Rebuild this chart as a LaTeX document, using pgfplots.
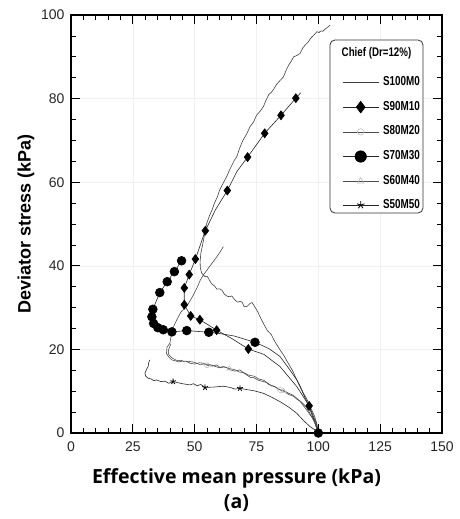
\documentclass[border=0pt]{standalone}
\usepackage{fontspec}
\setmainfont{Liberation Sans}
\newfontfamily\xlabfont{Open Sans}
\usepackage{pgfplots}
\pgfplotsset{compat=1.18}
\begin{document}
\begin{tikzpicture}
\useasboundingbox (-71pt,-86pt) rectangle (388pt,433pt);
\begin{axis}[
  scale only axis, width=371pt, height=418pt,
  at={(0pt,0pt)}, anchor=south west,
  xmin=0, xmax=150, ymin=0, ymax=100,
  xtick={0,25,...,150}, minor x tick num=4,
  ytick={0,20,...,100}, minor y tick num=3,
  tick align=inside, major tick length=9pt, minor tick length=5pt,
  tick style={black, line width=0.7pt},
  axis line style={black, line width=1.1pt},
  grid=major, grid style={black!6, line width=0.5pt},
  /pgf/number format/assume math mode=true,
  tick label style={font=\fontsize{14}{14}\selectfont, text=black!85},
  xticklabel style={yshift=-5pt},
  yticklabel style={xshift=-3pt},
  xlabel={Effective mean pressure (kPa)\\(a)},
  xlabel style={font=\xlabfont\bfseries\fontsize{19.5}{25}\selectfont, align=center,
     at={(axis description cs:0.446,0)}, anchor=north, inner sep=0pt, yshift=-35pt},
  ylabel={Deviator stress (kPa)},
  ylabel style={font=\bfseries\fontsize{18}{18}\selectfont,
     at={(axis description cs:-0.098,0.5)}, rotate=0, anchor=south, inner sep=0pt},
  legend cell align=right,
  legend image code/.code={
     \draw[#1, mark=none] (0pt,0pt) -- (36pt,0pt);
     \draw[#1, mark indices={1}, every mark/.append style={scale=1.3}] plot coordinates {(18pt,0pt)};},
  legend style={draw=none, fill=none, inner sep=0pt,
     at={(axis description cs:0.9407,0.8512)}, anchor=north east,
     font=\bfseries\fontsize{13}{13}\selectfont,
     nodes={inner sep=0pt, text height=8pt, text depth=2pt, xscale=0.76},
     row sep=13.9pt, column sep=4pt},
]
% S100M0
\addplot[black!75, line width=0.6pt, mark=none] coordinates {
(100,0) (99.5,2) (98.5,4) (96.7,6.3) (95.2,8.3) (94,9.5) (92.5,11.4) (91.3,12.7) (89.5,15.0) (88,16.5)
(86,18.6) (84.5,19.9) (82.5,21.8) (81,23.5) (79.3,24.6) (77.8,26.2) (76.6,27.6) (75.5,29) (74,30.5)
(73.2,31.2) (72.4,31.0) (71.2,30.3) (70,30.2) (69.2,31.3) (68.5,31.5) (67.3,31.3) (66,32)
(65,32.8) (64.3,32.6) (63.2,32.7) (62,33.2) (61,34.2) (60,34.5) (59,34.4) (58,35.2) (57.2,35.5)
(56.5,36) (55.6,37.0) (55,37.5) (54.2,37.4) (53.5,37.8) (52.8,38.3) (52.3,39.5) (52.2,41)
(52.5,43) (53.2,45) (54,47.5) (54.8,50) (56,52) (57.2,53.6) (58,55) (59.2,56.5) (60,58) (61.2,59.4)
(62.9,61.3) (64,62.8) (65,64) (66,65.2) (67,66.1) (68.3,68.3) (69.5,70) (71,71.5) (72.4,73.3)
(73.8,74.4) (75,76) (76.5,77) (77.8,78.1) (79,79.8) (80,81) (81,81.5) (81.8,82.1) (83,83.3) (84,84)
(85.9,85.2) (87,86.8) (88,88) (89,88.9) (90,90) (91.3,90.3) (92.6,90.8) (93.8,92.2) (95,93)
(96,93.6) (97,94.5) (98.2,95.2) (99.4,96.0) (100.3,95.8) (101,96.2) (101.8,96.1) (102.5,96.5)
(103.6,97.0) (104.8,97.6)};
\addlegendentry{S100M0}
% S90M10
\addplot[black!85, line width=0.6pt, mark=diamond*, mark size=4.5pt,
  mark options={fill=black, draw=black, solid},
  mark indices={3,7,9,10,11,12,13,14,15,16,18,20,21,22,23}] coordinates {
(100,0) (99,2.5) (96.3,6.5) (91.3,11.1) (84.5,15.9) (78,18.8) (71.7,20.1) (65,22.6) (58.9,24.6)
(52.1,27.1) (48.4,28.0) (45.8,30.7) (45.8,34.7) (47.8,37.9) (50.3,41.6) (54.3,48.4) (58.5,53.5)
(63.2,58.0) (67,62.5) (71.4,66.0) (78.3,71.7) (84.9,76.0) (90.9,80.1) (92.9,81.4)};
\addlegendentry{S90M10}
% S80M20
\addplot[black!70, line width=0.6pt, mark=o, mark size=2.5pt,
  mark options={draw=black!25, solid}, mark indices={12,30}] coordinates {
(100,0) (99,2) (98,3.4) (96.7,4.3) (95.2,5.6) (94,6.5) (92.6,7.6) (91.3,8.3) (89.6,9.1) (88,9.5)
(86.2,10.1) (84.5,10.3) (82.7,11.0) (81,11.3) (79.4,12.0) (77.8,12.3) (75.8,12.6) (74,13.2)
(72.5,13.3) (71,13.9) (69.6,14.5) (68.3,15.1) (66.3,14.8) (64.3,15.1) (63,15.6) (61.6,15.9)
(60.2,15.7) (58.9,16.3) (57,16.0) (55,16.2) (53.5,16.7) (52,16.8) (50,16.5) (48.1,16.7)
(46.5,17.2) (45,17.2) (43.5,17.0) (42,17.3) (40.7,17.5) (39.5,18.2) (38.6,19) (38.8,20.5)
(40,21.5) (40.7,24.1) (41.6,25.6) (42.7,27.0) (44.5,29) (46.7,30.2) (48,31.5) (49,32.5)
(51,34.8) (52.3,36.6) (53.5,37.8) (56,39.8) (58.5,41.8) (60.2,43.2) (61.6,44.6)};
\addlegendentry{S80M20}
% S70M30
\addplot[black!85, line width=0.6pt, mark=*, mark size=4.4pt,
  mark options={fill=black, draw=black, solid},
  mark indices={1,8,11,12,13,14,15,16,17,18,19,20,21,22}] coordinates {
(100,0) (98,3.5) (95,8) (91.3,12.7) (88,15.5) (84.5,18.3) (80,20.2) (74.4,21.7) (66,23.2)
(60,23.8) (55.7,24.1) (46.8,24.5) (40.8,24.2) (37.3,24.7) (35.1,25.2) (33.4,26.2) (32.7,27.8)
(33.1,29.6) (35.9,33.6) (38.9,36.2) (41.8,38.6) (44.7,41.2)};
\addlegendentry{S70M30}
% S60M40
\addplot[black!70, line width=0.6pt, mark=triangle, mark size=2.8pt,
  mark options={draw=black!25, solid}, mark indices={9,20}] coordinates {
(100,0) (98.5,2.5) (96.7,4.6) (95,6.3) (93,7.5) (91.5,8.0) (90,8.8) (88,9.2) (86,10) (84,10.5)
(82,11.2) (80,11.6) (78,12.6) (76,12.9) (74,13.6) (72,13.8) (70,14.4) (68,14.6) (66,15.2)
(64,15.4) (62,15.8) (60,15.6) (58,16.0) (56,16.4) (54,16.5) (52,16.4) (50,16.9) (48,17.1)
(46,17.0) (44.5,17.4) (43,17.3) (42,17.6) (41,17.9) (40.2,18.3) (39.5,18.8) (39.3,19.5)
(39.6,20.2) (40.4,21.3)};
\addlegendentry{S60M40}
% S50M50
\addplot[black!85, line width=0.6pt, mark=star, mark size=3pt,
  mark options={draw=black, solid, line width=0.8pt},
  mark indices={12,17,23}] coordinates {
(100,0) (98.5,0.8) (96.7,1.5) (94,3) (91.3,4.7) (88,6.2) (84.5,7.5) (81,8.6) (77.8,9.5)
(74,10.1) (71,10.4) (68.3,10.7) (66.3,10.5) (64.3,10.9) (61.6,11.2) (58,11.0) (54.2,10.9)
(52.5,11.6) (51,11.3) (49.5,11.8) (48.1,11.5) (45,11.8) (41.3,12.3) (39.5,11.9) (38,12.4)
(36.3,12.3) (34.6,12.7) (33.5,12.5) (32.5,12.9) (31.2,13.1) (30.2,13.6) (29.9,14.3)
(30.5,15.2) (31.2,15.9) (31.4,16.8) (31.9,17.5)};
\addlegendentry{S50M50}
\draw[draw=black!80, fill=white, rounded corners=5pt, line width=0.8pt]
  (axis description cs:0.698,0.5263) rectangle (axis description cs:0.9488,0.9402);
\node[font=\bfseries\fontsize{12.5}{12.5}\selectfont, xscale=0.78, text=black]
  at (axis description cs:0.8235,0.909) {Chief (Dr=12\%)};
\end{axis}
\end{tikzpicture}
\end{document}
